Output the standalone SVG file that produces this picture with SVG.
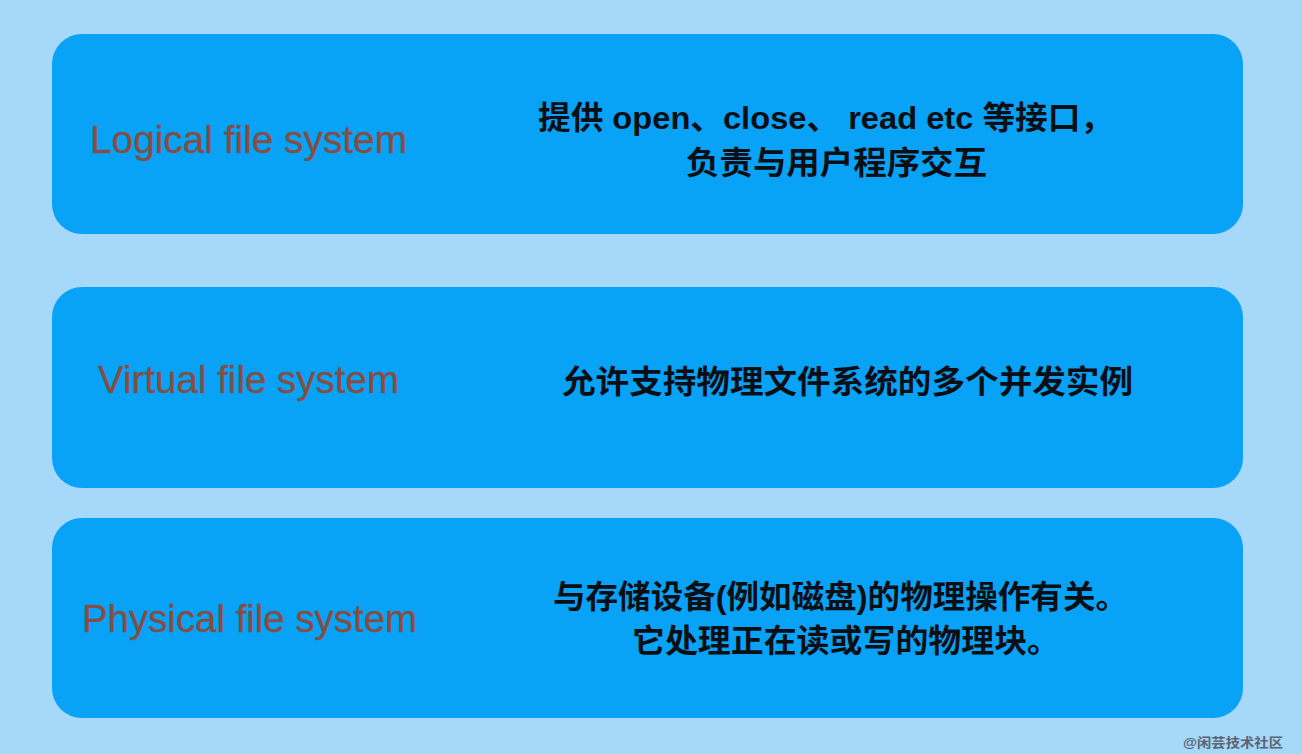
<svg xmlns="http://www.w3.org/2000/svg" width="1302" height="754" viewBox="0 0 1302 754">
  <style>
    .box { fill: #08a2f7; }
    .label { font-family: "Liberation Sans", Arial, sans-serif; font-size: 38px; fill: #8a4c3e; stroke: #6a5a5a; stroke-width: 0.4; }
    .desc { font-family: "Liberation Sans", "Noto Sans CJK SC", sans-serif; font-size: 32px; font-weight: bold; fill: #0b0f14; }
    .mark { font-family: "Liberation Sans", "Noto Sans CJK SC", sans-serif; font-size: 13px; font-weight: bold; fill: #5a6470; }
  </style>
  <rect width="1302" height="754" fill="#a6d8f9"/>
  <g id="connectors"/>
  <g id="logical">
    <rect class="box" x="52" y="34" width="1191" height="200" rx="30" ry="30"/>
    <text class="label" x="90" y="153" textLength="317" lengthAdjust="spacingAndGlyphs">Logical file system</text>
    <text class="desc" x="538" y="129" textLength="575" lengthAdjust="spacingAndGlyphs">提供 open、close、 read etc  等接口，</text>
    <text class="desc" x="686" y="174" textLength="301" lengthAdjust="spacingAndGlyphs">负责与用户程序交互</text>
  </g>
  <g id="virtual">
    <rect class="box" x="52" y="287" width="1191" height="201" rx="30" ry="30"/>
    <text class="label" x="98" y="393" textLength="301" lengthAdjust="spacingAndGlyphs">Virtual file system</text>
    <text class="desc" x="562" y="393" textLength="571" lengthAdjust="spacingAndGlyphs">允许支持物理文件系统的多个并发实例</text>
  </g>
  <g id="physical">
    <rect class="box" x="52" y="518" width="1191" height="200" rx="30" ry="30"/>
    <text class="label" x="82" y="632" textLength="335" lengthAdjust="spacingAndGlyphs">Physical file system</text>
    <text class="desc" x="553" y="608" textLength="575" lengthAdjust="spacingAndGlyphs">与存储设备(例如磁盘)的物理操作有关。</text>
    <text class="desc" x="632" y="652" textLength="428" lengthAdjust="spacingAndGlyphs">它处理正在读或写的物理块。</text>
  </g>
  <text class="mark" x="1183" y="747" textLength="100" lengthAdjust="spacingAndGlyphs">@闲芸技术社区</text>
</svg>
